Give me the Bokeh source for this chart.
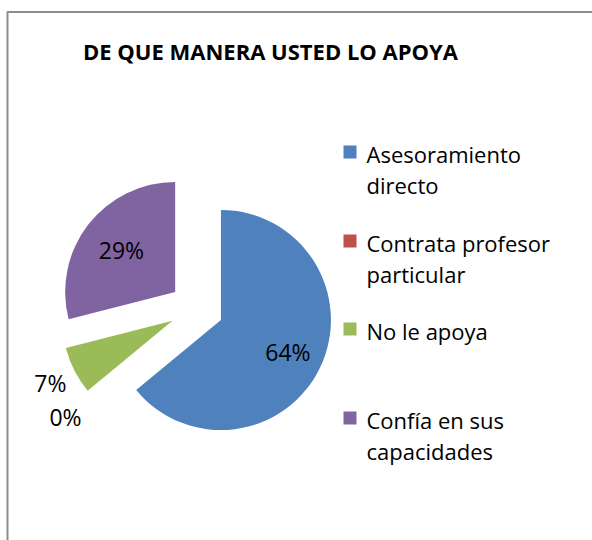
import math
from bokeh.plotting import figure
from bokeh.models import Range1d
from bokeh.core.properties import value
from bokeh.embed import file_html
from bokeh.resources import INLINE

# ---- data ----
title = "DE QUE MANERA USTED LO APOYA"
categories = ["Asesoramiento\ndirecto", "Contrata profesor\nparticular", " No le apoya", "Confía en sus\ncapacidades"]
percents = [64, 0, 7, 29]
colors = ["#4F81BD", "#C0504D", "#9BBB59", "#8064A2"]

FONT = "Open Sans"
W, H = 592, 540
# data coordinates == image pixels (x), y flipped: y_data = 540 - y_img
def Y(yimg):
    return 540 - yimg

p = figure(width=W, height=H, output_backend="svg", toolbar_location=None,
           x_range=Range1d(0, 592), y_range=Range1d(0, 540),
           min_border=0, min_border_left=0, min_border_right=0,
           min_border_top=0, min_border_bottom=0)
p.axis.visible = False
p.grid.visible = False
p.outline_line_color = None
p.background_fill_color = "white"
p.border_fill_color = "white"

# chart frame
p.quad(left=[7], right=[800], top=[Y(11.5)], bottom=[-200],
       fill_alpha=0, line_color="#8c8c8c", line_width=2)

# title
p.text(x=[270], y=[Y(50)], text=[title], text_font=value(FONT),
       text_font_style="bold", text_font_size="22px", text_color="black",
       text_align="center", text_baseline="middle")

# pie
cx, cy = 196, Y(308)
R = 110
explode = 27
label_r = [101, 170, 164, 95]
total = sum(percents)
cum = 0.0
wx, wy, ws, we, wc = [], [], [], [], []
lx, ly, lt = [], [], []
for i, v in enumerate(percents):
    f0 = cum / total
    f1 = (cum + v) / total
    cum += v
    a_start = math.radians(90 - f1 * 360)
    a_end = math.radians(90 - f0 * 360)
    mid = (a_start + a_end) / 2
    if v > 0:
        wx.append(cx + explode * math.cos(mid))
        wy.append(cy + explode * math.sin(mid))
        ws.append(a_start)
        we.append(a_end)
        wc.append(colors[i])
    lx.append(cx + label_r[i] * math.cos(mid))
    ly.append(cy + label_r[i] * math.sin(mid))
    lt.append(f"{v}%")

p.wedge(x=wx, y=wy, radius=R, start_angle=ws, end_angle=we,
        fill_color=wc, line_color=None)
p.text(x=lx, y=ly, text=lt, text_font=value(FONT), text_font_size="23px",
       text_color="black", text_align="center", text_baseline="middle")

# legend
leg_sq_x = 349.5
leg_sq_y = [151.5, 240.5, 328.5, 417.5]
leg_text_x = 366
line_h = 31
p.scatter(x=[leg_sq_x] * 4, y=[Y(v) for v in leg_sq_y], marker="square",
          size=13, fill_color=colors, line_color=None)
tx, ty, tt = [], [], []
for i, cat in enumerate(categories):
    for j, line in enumerate(cat.split("\n")):
        tx.append(leg_text_x)
        ty.append(Y(leg_sq_y[i] + 2 + j * line_h))
        tt.append(line)
p.text(x=tx, y=ty, text=tt, text_font=value(FONT), text_font_size="22px",
       text_color="black", text_align="left", text_baseline="middle")

open("out.html", "w").write(file_html(p, INLINE))
